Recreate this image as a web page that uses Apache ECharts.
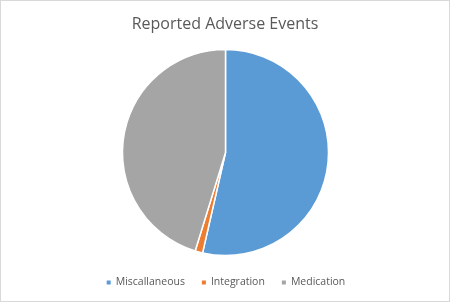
<!DOCTYPE html>
<html><head><meta charset="utf-8">
<script src="https://cdn.jsdelivr.net/npm/echarts@6/dist/echarts.min.js"></script>
<style>html,body{margin:0;padding:0;background:#fff}#c{width:450px;height:302px;box-sizing:border-box;border:1px solid #d9d9d9}</style>
</head><body><div id="c"></div>
<script>
const categories = ['Miscallaneous', 'Integration', 'Medication'];
const values = [45, 1, 38];
const colors = ['#5B9BD5', '#ED7D31', '#A5A5A5'];
const titleText = 'Reported Adverse Events';

const chart = echarts.init(document.getElementById('c'), null, {renderer: 'canvas'});
chart.setOption({
  animation: false,
  color: colors,
  title: {
    text: titleText, left: 'center', top: 10,
    textStyle: {fontFamily: 'Open Sans', fontWeight: 'normal', fontSize: 16, color: '#595959'}
  },
  legend: {
    data: categories, bottom: 8, left: 'center', icon: 'rect',
    itemWidth: 6, itemHeight: 6, itemGap: 15,
    textStyle: {fontFamily: 'Open Sans', fontSize: 10.5, color: '#595959', padding: [0,0,0,-1]}
  },
  series: [{
    type: 'pie', center: [224.5, 151.5], radius: 103, startAngle: 90, clockwise: true,
    label: {show: false}, labelLine: {show: false},
    itemStyle: {borderColor: '#fff', borderWidth: 1.5},
    data: categories.map((n, i) => ({name: n, value: values[i]}))
  }]
});
</script></body></html>
